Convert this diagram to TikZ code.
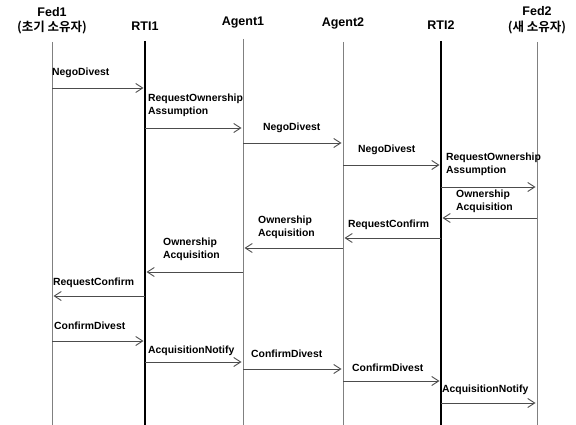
\documentclass[tikz,border=0pt]{standalone}
\usepackage{fontspec}
\setmainfont{Liberation Sans}
\newfontfamily\krfont{Noto Sans CJK KR}[BoldFont={Noto Sans CJK KR Bold}]
\usetikzlibrary{arrows.meta}

\tikzset{
  head/.style={font=\fontsize{12.5}{15.5}\selectfont\bfseries, align=center, inner sep=0pt},
  lifeline/.style={draw=gray, line width=0.9pt},
  rtiline/.style={draw=black, line width=2.6pt},
  msg/.style={draw=black!70, line width=0.9pt, -{Straight Barb[length=7pt,width=9pt]}, shorten >=1.5pt},
  lbl/.style={font=\fontsize{10.4}{13}\selectfont\bfseries, align=left, anchor=west, inner sep=0pt}
}

\begin{document}
\begin{tikzpicture}[x=1pt,y=-1pt]
  \useasboundingbox (0,0) rectangle (576,425);

  % participants
  \node[head] (fed1) at (52,20.5) {Fed1\\{\krfont\bfseries (초기 소유자)}};
  \node[head] (rti1) at (145,26) {RTI1};
  \node[head] (agent1) at (243,23) {Agent1};
  \node[head] (agent2) at (343,23) {Agent2};
  \node[head] (rti2) at (441,25) {RTI2};
  \node[head] (fed2) at (537,20) {Fed2\\{\krfont\bfseries (새 소유자)}};

  % lifelines
  \draw[lifeline] (fed1 |- 0,42) -- (fed1 |- 0,425);
  \draw[rtiline] (rti1 |- 0,41) -- (rti1 |- 0,425);
  \draw[lifeline] (agent1 |- 0,39) -- (agent1 |- 0,425);
  \draw[lifeline] (agent2 |- 0,42) -- (agent2 |- 0,425);
  \draw[rtiline] (rti2 |- 0,41) -- (rti2 |- 0,425);
  \draw[lifeline] (fed2 |- 0,42) -- (fed2 |- 0,425);

  % divest request
  \draw[msg] (fed1 |- 0,88) -- (rti1 |- 0,88);
  \node[lbl] (m1) at (52,73) {NegoDivest};
  \draw[msg] (rti1 |- 0,128) -- (agent1 |- 0,128);
  \node[lbl] (m2) at (148,105.5) {RequestOwnership\\Assumption};
  \draw[msg] (agent1 |- 0,143) -- (agent2 |- 0,143);
  \node[lbl] (m3) at (263,128) {NegoDivest};
  \draw[msg] (agent2 |- 0,165) -- (rti2 |- 0,165);
  \node[lbl] (m4) at (358,150) {NegoDivest};
  \draw[msg] (rti2 |- 0,187) -- (fed2 |- 0,187);
  \node[lbl] (m5) at (446,164.5) {RequestOwnership\\Assumption};

  % acquisition back
  \draw[msg] (fed2 |- 0,218) -- (rti2 |- 0,218);
  \node[lbl] (m6) at (456,201.5) {Ownership\\Acquisition};
  \draw[msg] (rti2 |- 0,238) -- (agent2 |- 0,238);
  \node[lbl] (m7) at (348,225) {RequestConfirm};
  \draw[msg] (agent2 |- 0,248) -- (agent1 |- 0,248);
  \node[lbl] (m8) at (258,227.5) {Ownership\\Acquisition};
  \draw[msg] (agent1 |- 0,272) -- (rti1 |- 0,272);
  \node[lbl] (m9) at (163,249.5) {Ownership\\Acquisition};
  \draw[msg] (rti1 |- 0,296) -- (fed1 |- 0,296);
  \node[lbl] (m10) at (53,283) {RequestConfirm};

  % confirm
  \draw[msg] (fed1 |- 0,341) -- (rti1 |- 0,341);
  \node[lbl] (m11) at (54,326) {ConfirmDivest};
  \draw[msg] (rti1 |- 0,362) -- (agent1 |- 0,362);
  \node[lbl] (m12) at (148,351) {AcquisitionNotify};
  \draw[msg] (agent1 |- 0,369) -- (agent2 |- 0,369);
  \node[lbl] (m13) at (251,354) {ConfirmDivest};
  \draw[msg] (agent2 |- 0,381) -- (rti2 |- 0,381);
  \node[lbl] (m14) at (352,368) {ConfirmDivest};
  \draw[msg] (rti2 |- 0,403) -- (fed2 |- 0,403);
  \node[lbl] (m15) at (442,390) {AcquisitionNotify};
\end{tikzpicture}
\end{document}
